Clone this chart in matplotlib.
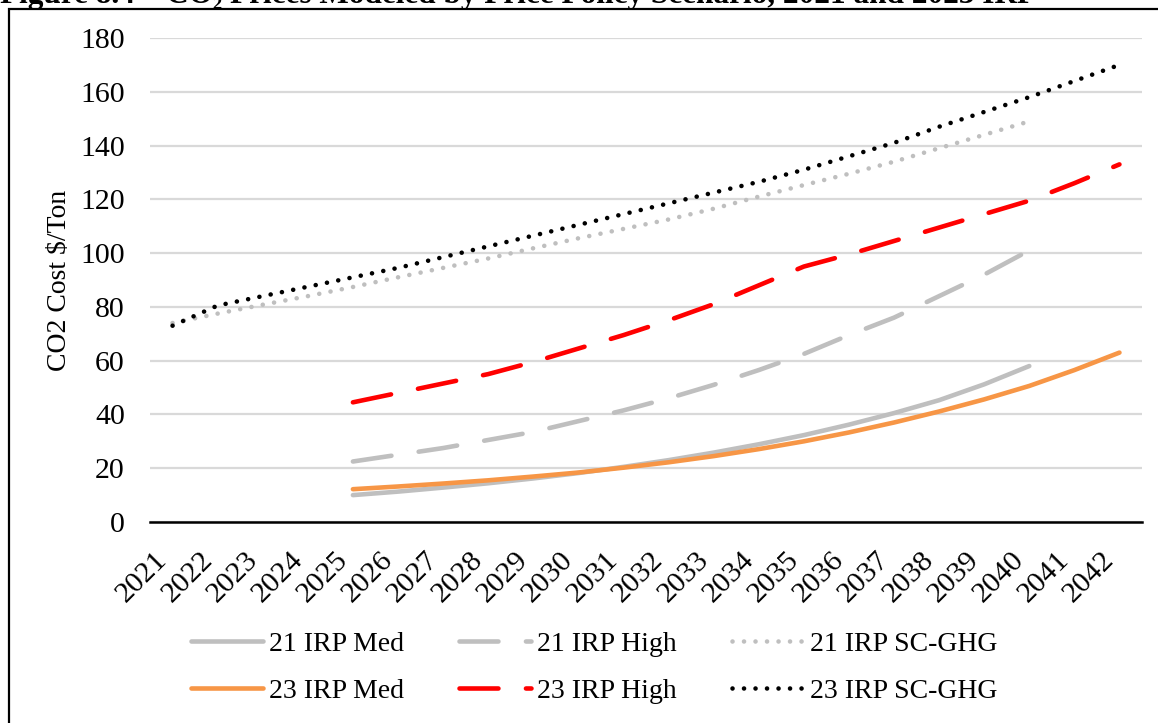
import matplotlib
matplotlib.use('Agg')
import matplotlib.pyplot as plt
from matplotlib.patches import Rectangle

plt.rcParams['font.family'] = ['Liberation Serif', 'DejaVu Serif']

# Годы по оси X
years = [str(y) for y in range(2021, 2043)]

# 2021 IRP (Med/High с 2025 по 2040, SC-GHG с 2021 по 2040)
irp21_med = [10.0, 11.3, 12.8, 14.4, 16.2, 18.2, 20.5, 23.0, 25.8, 28.9,
             32.3, 36.2, 40.5, 45.3, 51.2, 58.0]
irp21_high = [22.5, 25.0, 27.5, 30.5, 33.5, 37.5, 41.5, 46.0, 51.0, 56.5,
              62.5, 69.5, 76.0, 84.0, 92.0, 101.0]
irp21_sc = [74.0, 77.5, 80.8, 84.0, 87.4, 91.0, 94.5, 98.0, 101.8, 105.5,
            109.0, 112.5, 116.5, 121.0, 125.3, 129.5, 134.0, 139.0, 144.0, 149.0]

# 2023 IRP (Med/High с 2025 по 2042, SC-GHG с 2021 по 2042)
irp23_med = [12.2, 13.2, 14.3, 15.5, 16.9, 18.4, 20.2, 22.2, 24.5, 27.1,
             30.0, 33.3, 37.0, 41.1, 45.6, 50.6, 56.5, 63.0]
irp23_high = [44.5, 48.0, 51.5, 55.0, 59.5, 64.5, 69.5, 75.0, 81.0, 88.0,
              95.0, 99.5, 104.5, 109.5, 114.5, 119.5, 126.0, 133.0]
irp23_sc = [73.0, 80.5, 84.0, 87.5, 91.0, 94.5, 98.5, 102.5, 106.5, 110.5,
            114.5, 118.5, 122.5, 126.5, 131.0, 136.0, 141.0, 147.0, 152.5,
            158.0, 164.0, 170.0]

title = 'Figure 8.4 \u2013 CO\u2082 Prices Modeled by Price Policy Scenario, 2021 and 2023 IRP'

fig = plt.figure(figsize=(11.58, 7.23), dpi=100)
ax = fig.add_axes([150/1158, 1 - 522/723, 992/1158, 484/723])

x = list(range(len(years)))
x25 = x[4:4 + 16]
x25_42 = x[4:]
x21_40 = x[:20]

lw = 3.3
dash = (0, (8.5, 6))
dot = (0, (0.01, 2.5))

h1, = ax.plot(x25, irp21_med, color='#BFBFBF', lw=lw, solid_capstyle='round', label='21 IRP Med')
h2, = ax.plot(x25, irp21_high, color='#BFBFBF', lw=lw, ls=dash, dash_capstyle='round', label='21 IRP High')
h3, = ax.plot(x21_40, irp21_sc, color='#BFBFBF', lw=lw, ls=dot, dash_capstyle='round', label='21 IRP SC-GHG')
h4, = ax.plot(x25_42, irp23_med, color='#F79646', lw=lw, solid_capstyle='round', label='23 IRP Med')
h5, = ax.plot(x25_42, irp23_high, color='#FF0000', lw=lw, ls=dash, dash_capstyle='round', label='23 IRP High')
h6, = ax.plot(x, irp23_sc, color='black', lw=lw, ls=dot, dash_capstyle='round', label='23 IRP SC-GHG')

ax.set_xlim(-0.5, len(years) - 0.5)
ax.set_ylim(0, 180)
ax.set_yticks(range(0, 181, 20))
ax.set_xticks(x)
ax.set_xticklabels(years, rotation=45, ha='right', va='top')
ax.tick_params(axis='both', length=0, labelsize=21.5, pad=18)
ax.grid(axis='y', color='#D9D9D9', lw=1.6)
ax.set_axisbelow(True)
for s in ['top', 'right', 'left']:
    ax.spines[s].set_visible(False)
ax.spines['bottom'].set_linewidth(1.8)
ax.spines['bottom'].set_zorder(3)

ax.set_ylabel('CO2 Cost $/Ton', fontsize=20)
ax.yaxis.set_label_coords(-0.0786, 0.5)

# Легенда: 2 строки по 3 элемента
hs = [h1, h4, h2, h5, h3, h6]
fig.legend(hs, [h.get_label() for h in hs],
           ncol=3, frameon=False, fontsize=20,
           loc='center', bbox_to_anchor=(0.513, 1 - 667.5/723),
           handlelength=2.6, handletextpad=0.2, columnspacing=2.0,
           labelspacing=0.77)

# Рамка вокруг рисунка и обрезанный заголовок
fig.patches.append(Rectangle((9/1158, -0.1), 1.2, 1 - 9/723 + 0.1,
                             transform=fig.transFigure, fill=False,
                             edgecolor='black', lw=1.6, clip_on=False))
fig.text(0.0, 1 - 3/723, title, fontsize=22.5, fontweight='bold',
         ha='left', va='baseline')

fig.savefig('out.png', dpi=100)
